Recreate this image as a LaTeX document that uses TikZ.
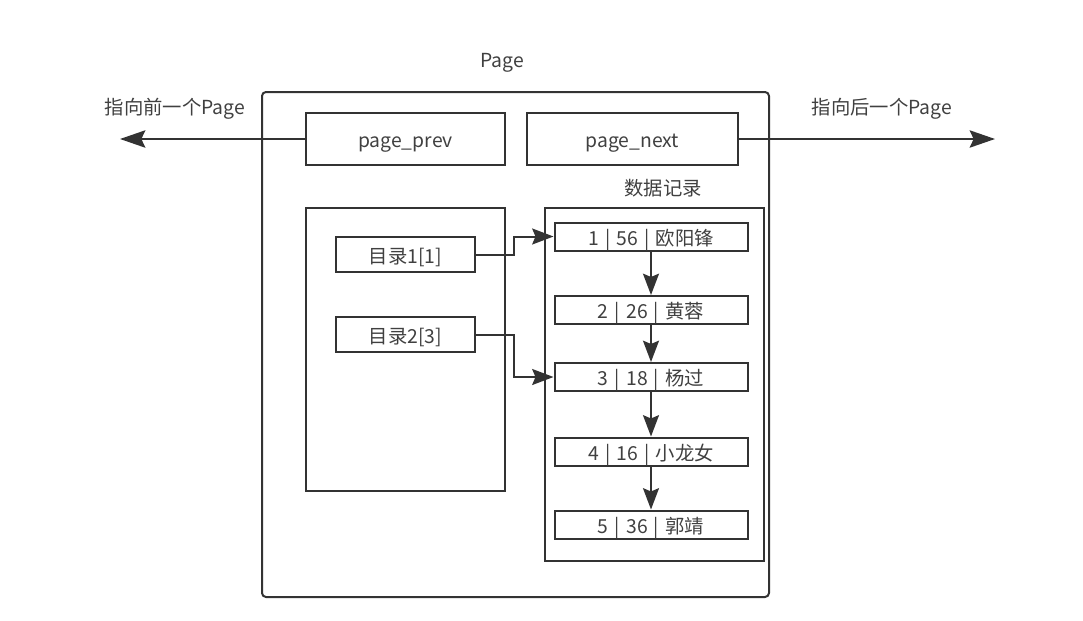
\documentclass[tikz,border=0pt]{standalone}
\usepackage{fontspec}
\setmainfont{Noto Sans CJK SC}
\usetikzlibrary{arrows.meta}
\definecolor{ln}{HTML}{333333}
\definecolor{tx}{HTML}{404040}
\newcommand{\sepbar}{\hspace{0.32em}|\hspace{0.32em}}
\tikzset{
  box/.style={draw=ln,line width=1.5pt,rectangle,inner sep=0pt},
  lbl/.style={text=tx,font=\fontsize{14.5}{16}\selectfont,inner sep=0pt,text height=1.3em,text depth=0em},
  conn/.style={draw=ln,line width=1.5pt,-{Stealth[length=16pt,width=12pt,inset=2.5pt]}},
  bigconn/.style={draw=ln,line width=1.5pt,-{Stealth[length=19pt,width=13pt,inset=3pt]}}
}
\begin{document}
\begin{tikzpicture}[x=0.75pt,y=-0.75pt]
\useasboundingbox (0,0) rectangle (1083,621);
% outer page
\draw[ln,line width=1.5pt,rounded corners=3pt] (262,92) rectangle (769,597);
\node[lbl] (pagelbl) at (502,59) {Page};
% prev / next
\node[box,minimum width=199*0.75pt,minimum height=52*0.75pt,lbl,draw=ln] (prev) at (405.5,139) {page\_prev};
\node[box,minimum width=211*0.75pt,minimum height=52*0.75pt,lbl,draw=ln] (next) at (632.5,139) {page\_next};
\coordinate (lt) at (120,139);
\coordinate (rt) at (995,139);
\draw[bigconn] (prev.west) -- (lt);
\draw[bigconn] (next.east) -- (rt);
\node[lbl] (lprev) at (175,106) {指向前一个Page};
\node[lbl] (lnext) at (882,106) {指向后一个Page};
% left directory box
\node[box,minimum width=199*0.75pt,minimum height=283*0.75pt] (dir) at (405.5,349.5) {};
\node[box,minimum width=139*0.75pt,minimum height=35*0.75pt,lbl,draw=ln] (d1) at (405.5,254.5) {目录1[1]};
\node[box,minimum width=139*0.75pt,minimum height=35*0.75pt,lbl,draw=ln] (d2) at (405.5,334.5) {目录2[3]};
% data records container
\node[lbl] (datalbl) at (663,187) {数据记录};
\node[box,minimum width=219*0.75pt,minimum height=353*0.75pt] (data) at (654.5,384.5) {};
\node[box,minimum width=193*0.75pt,minimum height=28*0.75pt,lbl,draw=ln] (r1) at (651,236.5) {1\sepbar{}56\sepbar{}欧阳锋};
\node[box,minimum width=193*0.75pt,minimum height=28*0.75pt,lbl,draw=ln] (r2) at (651,310) {2\sepbar{}26\sepbar{}黄蓉};
\node[box,minimum width=193*0.75pt,minimum height=28*0.75pt,lbl,draw=ln] (r3) at (651,377) {3\sepbar{}18\sepbar{}杨过};
\node[box,minimum width=193*0.75pt,minimum height=28*0.75pt,lbl,draw=ln] (r4) at (651,451.5) {4\sepbar{}16\sepbar{}小龙女};
\node[box,minimum width=193*0.75pt,minimum height=28*0.75pt,lbl,draw=ln] (r5) at (651,524.5) {5\sepbar{}36\sepbar{}郭靖};
\draw[conn] (r1) -- (r2);
\draw[conn] (r2) -- (r3);
\draw[conn] (r3) -- (r4);
\draw[conn] (r4) -- (r5);
% directory pointers
\draw[conn] (d1.east) -- (514,254.5) -- (514,236.5) -- (r1.west);
\draw[conn] (d2.east) -- (514,334.5) -- (514,377) -- (r3.west);
\end{tikzpicture}
\end{document}
